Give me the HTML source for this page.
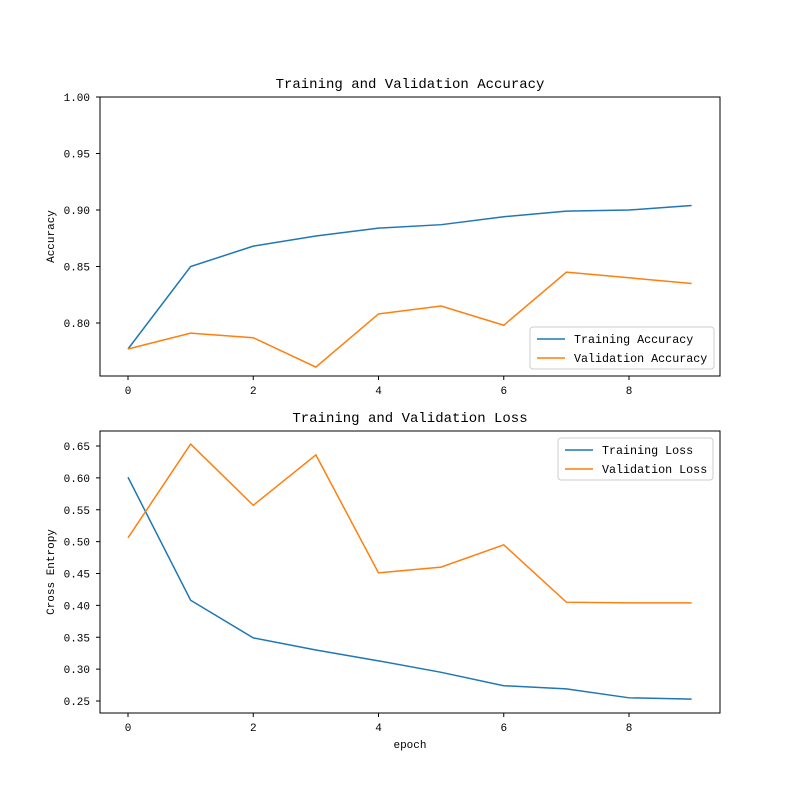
<!DOCTYPE html>
<html><head><meta charset="utf-8"><style>
body{margin:0;background:#fff}
svg text{font-family:"Liberation Mono","WenQuanYi Zen Hei",monospace;font-size:11px;fill:#000}
</style></head><body>
<svg id="c" width="800" height="800" xmlns="http://www.w3.org/2000/svg"></svg>
<script>
const epochs=[0,1,2,3,4,5,6,7,8,9];
const trainAcc=[0.777,0.850,0.868,0.877,0.884,0.887,0.894,0.899,0.900,0.904];
const valAcc=[0.777,0.791,0.787,0.761,0.808,0.815,0.798,0.845,0.840,0.835];
const trainLoss=[0.601,0.408,0.349,0.330,0.313,0.295,0.274,0.269,0.255,0.253];
const valLoss=[0.506,0.653,0.557,0.636,0.451,0.460,0.495,0.405,0.404,0.404];
const accTicks=[0.80,0.85,0.90,0.95,1.00];
const lossTicks=[0.25,0.30,0.35,0.40,0.45,0.50,0.55,0.60,0.65];
const xTicks=[0,2,4,6,8];

const svg=document.getElementById('c');
const NS='http://www.w3.org/2000/svg';
function mk(tag,attrs,parent){const e=document.createElementNS(NS,tag);for(const k in attrs)e.setAttribute(k,attrs[k]);(parent||svg).appendChild(e);return e;}
const X=v=>128+(v-0)*(629-128)/8;

function panel(p){
  const g=mk('g',{});
  
  
  const Y=v=>p.y0+(v-p.v0)*(p.y1-p.y0)/(p.v1-p.v0);
  const r=mk('rect',{x:100,y:p.top,width:620,height:p.bot-p.top,fill:'none',stroke:'#000','stroke-width':1},g);
  
  
  xTicks.forEach(t=>{
    mk('line',{x1:X(t),x2:X(t),y1:p.bot,y2:p.bot+4,stroke:'#000'},g);
    const tx=mk('text',{x:X(t),y:p.bot+18,'text-anchor':'middle'},g);tx.textContent=t;
    
    
  });
  p.ticks.forEach(t=>{
    mk('line',{x1:96,x2:100,y1:Y(t),y2:Y(t),stroke:'#000'},g);
    const tx=mk('text',{x:90,y:Y(t)+4,'text-anchor':'end'},g);tx.textContent=t.toFixed(2);
    
    
  });
  p.series.forEach(s=>{
    const pl=mk('polyline',{points:epochs.map((e,i)=>X(e)+','+Y(s.d[i])).join(' '),fill:'none',stroke:s.c,'stroke-width':1.5},g);
    
    
  });
  const ti=mk('text',{x:410,y:p.top-9,'text-anchor':'middle'},g);ti.textContent=p.title;ti.style.fontSize='14px';
  
  
  const yl=mk('text',{x:0,y:0,'text-anchor':'middle',transform:`translate(54,${(p.top+p.bot)/2}) rotate(-90)`},g);yl.textContent=p.ylab;
  
  
  const lg=mk('g',{},g);
  
  
  mk('rect',{x:p.lx,y:p.ly,width:p.lw,height:42,rx:3,fill:'#fff','fill-opacity':0.8,stroke:'#ccc'},lg);
  p.series.forEach((s,i)=>{
    const yy=p.ly+12+i*19;
    mk('line',{x1:p.lx+7,x2:p.lx+35,y1:yy,y2:yy,stroke:s.c,'stroke-width':1.5},lg);
    const t=mk('text',{x:p.lx+44,y:yy+4},lg);t.textContent=s.label;t.style.fontSize='11.7px';
    
    
  });
}
panel({name:'accuracy-panel',top:97,bot:376,v0:0.80,y0:323,v1:1.00,y1:97,ticks:accTicks,title:'Training and Validation Accuracy',ylab:'Accuracy',lx:530,ly:327,lw:184,
  series:[{d:trainAcc,c:'#1f77b4',n:'training-accuracy-line',label:'Training Accuracy'},{d:valAcc,c:'#ff7f0e',n:'validation-accuracy-line',label:'Validation Accuracy'}]});
panel({name:'loss-panel',top:431,bot:713,v0:0.25,y0:701,v1:0.65,y1:446,ticks:lossTicks,title:'Training and Validation Loss',ylab:'Cross Entropy',lx:558,ly:438,lw:155,
  series:[{d:trainLoss,c:'#1f77b4',n:'training-loss-line',label:'Training Loss'},{d:valLoss,c:'#ff7f0e',n:'validation-loss-line',label:'Validation Loss'}]});
const xl=mk('text',{x:410,y:748,'text-anchor':'middle'});xl.textContent='epoch';


</script>
</body></html>
